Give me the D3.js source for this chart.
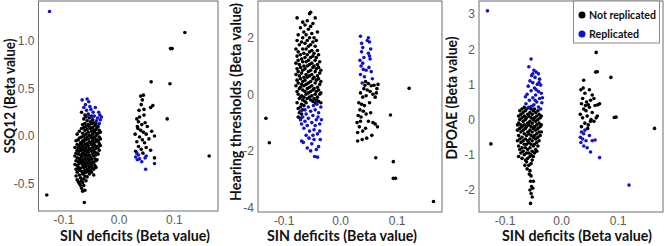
<!DOCTYPE html>
<html>
<head>
<meta charset="utf-8">
<script src="https://cdn.jsdelivr.net/npm/d3@7"></script>
<style>
body { margin: 0; background: #fff; }
text { font-family: "Liberation Sans", Arial, sans-serif; }
</style>
</head>
<body>
<svg id="chart" width="669" height="246"></svg>
<script>
// x = SIN deficits beta, y = beta on the other measure
// dense clusters are stored as columns: [x, [y, y, ...]]

// ---- SSQ12 panel ----
var ssqBlackCols = [
  [-0.079, [-0.12, -0.21, -0.30]],
  [-0.077, [-0.05, -0.18, -0.26, -0.35, -0.42]],
  [-0.075, [0.02, -0.09, -0.15, -0.23, -0.31, -0.38, -0.46]],
  [-0.073, [-0.04, -0.12, -0.19, -0.27, -0.33, -0.48]],
  [-0.071, [0.05, -0.02, -0.10, -0.16, -0.24, -0.29, -0.36, -0.41, -0.50]],
  [-0.069, [-0.07, -0.13, -0.20, -0.26, -0.34, -0.44, -0.52]],
  [-0.067, [0.25, 0.08, -0.01, -0.08, -0.15, -0.22, -0.28, -0.37, -0.47, -0.55]],
  [-0.065, [0.12, 0.03, -0.05, -0.11, -0.18, -0.25, -0.31, -0.40, -0.49, -0.58]],
  [-0.063, [0.18, 0.09, 0.00, -0.06, -0.14, -0.20, -0.27, -0.33, -0.39, -0.45, -0.52]],
  [-0.061, [0.22, 0.13, 0.06, -0.03, -0.09, -0.16, -0.23, -0.29, -0.36, -0.42, -0.57]],
  [-0.059, [0.20, 0.10, 0.02, -0.04, -0.12, -0.19, -0.25, -0.32, -0.38, -0.47]],
  [-0.057, [0.16, 0.07, -0.01, -0.08, -0.15, -0.21, -0.28, -0.35, -0.43]],
  [-0.055, [0.23, 0.12, 0.04, -0.03, -0.10, -0.17, -0.24, -0.30, -0.37]],
  [-0.053, [0.19, 0.10, 0.01, -0.06, -0.13, -0.20, -0.26, -0.33, -0.40]],
  [-0.051, [0.15, 0.08, 0.00, -0.07, -0.14, -0.22, -0.29, -0.36]],
  [-0.049, [0.21, 0.13, 0.05, -0.02, -0.09, -0.16, -0.24, -0.31, -0.38]],
  [-0.047, [0.17, 0.09, 0.02, -0.05, -0.12, -0.19, -0.27, -0.34]],
  [-0.045, [0.14, 0.06, -0.01, -0.08, -0.15, -0.21, -0.28, -0.35, -0.41]],
  [-0.043, [0.11, 0.04, -0.03, -0.10, -0.17, -0.24, -0.31]],
  [-0.041, [0.13, 0.07, 0.00, -0.06, -0.13, -0.20, -0.26, -0.33]],
  [-0.039, [0.09, 0.02, -0.04, -0.11, -0.18, -0.25]],
  [-0.037, [0.10, 0.03, -0.05, -0.12, -0.19]],
  [-0.035, [0.06, -0.01, -0.08, -0.15]],
  [-0.033, [0.04, -0.03, -0.10]]
];
var ssqBlackPts = [
  [-0.130, -0.62], [-0.062, -0.70], [0.120, 1.09], [0.094, 0.92], [0.097, 0.92],
  [0.093, 0.55], [0.088, 0.18], [0.164, -0.21], [0.059, 0.57], [0.062, 0.32], [0.045, 0.43],
  [0.040, 0.42], [0.043, 0.38], [0.041, 0.33], [0.046, 0.28], [0.038, 0.20], [0.033, 0.18],
  [0.036, 0.15], [0.042, 0.12], [0.048, 0.14], [0.052, 0.10], [0.035, 0.08], [0.040, 0.06],
  [0.045, 0.04], [0.050, 0.02], [0.030, 0.02], [0.038, -0.01], [0.043, -0.04], [0.033, -0.06],
  [0.047, -0.07], [0.055, -0.03], [0.060, 0.05], [0.065, 0.00], [0.036, -0.11], [0.041, -0.14],
  [0.031, -0.16], [0.050, -0.12], [0.058, -0.15], [0.065, -0.23], [0.046, 0.22], [0.058, 0.30],
  [0.034, 0.10], [0.044, -0.18], [0.037, 0.27]
];
var ssqBluePts = [
  [-0.125, 1.31],
  [-0.066, 0.38], [-0.057, 0.39], [-0.054, 0.36], [-0.060, 0.33], [-0.052, 0.31], [-0.058, 0.27],
  [-0.050, 0.28], [-0.046, 0.25], [-0.055, 0.22], [-0.048, 0.20], [-0.044, 0.21], [-0.036, 0.25],
  [-0.034, 0.22], [-0.038, 0.19], [-0.033, 0.17], [-0.040, 0.16], [-0.035, 0.13], [-0.042, 0.30],
  [-0.063, 0.30], [-0.031, 0.20],
  [0.031, -0.22], [0.034, -0.25], [0.036, -0.20], [0.038, -0.24], [0.048, -0.23], [0.050, -0.21],
  [0.049, -0.35], [0.065, -0.29], [0.042, -0.27], [0.033, -0.18]
];

// ---- Hearing thresholds panel ----
var hearBlackCols = [
  [-0.078, [1.6, 1.1, 0.7, 0.3]],
  [-0.076, [2.7, 1.9, 1.35, 0.9, 0.5, 0.1, -0.3]],
  [-0.074, [2.1, 1.5, 1.2, 0.8, 0.4, 0.0, -0.5, -0.8]],
  [-0.072, [1.75, 1.05, 0.65, 0.2, -0.15, -0.65]],
  [-0.070, [2.35, 1.4, 0.95, 0.55, 0.25, -0.1, -0.45, -0.85]],
  [-0.068, [1.85, 1.25, 0.75, 0.35, -0.05, -0.35, -0.7]],
  [-0.066, [2.55, 2.0, 1.6, 1.15, 0.85, 0.45, 0.15, -0.2, -0.55]],
  [-0.064, [2.2, 1.45, 1.0, 0.6, 0.3, -0.1, -0.4]],
  [-0.062, [2.45, 1.8, 1.3, 0.9, 0.5, 0.1, -0.25]],
  [-0.060, [2.1, 1.6, 1.15, 0.7, 0.35, 0.0, -0.3]],
  [-0.058, [2.6, 1.9, 1.4, 1.0, 0.6, 0.2, -0.15]],
  [-0.056, [2.3, 1.7, 1.2, 0.8, 0.4, 0.05]],
  [-0.054, [2.85, 2.0, 1.5, 1.05, 0.65, 0.25, -0.1]],
  [-0.052, [2.9, 2.4, 1.75, 1.3, 0.85, 0.45, 0.1, -0.2]],
  [-0.050, [2.15, 1.55, 1.1, 0.7, 0.3, -0.05]],
  [-0.048, [2.5, 1.85, 1.35, 0.95, 0.55, 0.15, -0.25]],
  [-0.046, [2.0, 1.45, 1.0, 0.6, 0.2, -0.15]],
  [-0.044, [2.7, 1.7, 1.2, 0.8, 0.4, 0.0, -0.3]],
  [-0.042, [1.9, 1.3, 0.9, 0.5, 0.1, -0.2]],
  [-0.040, [2.2, 1.55, 1.05, 0.65, 0.25, -0.1]],
  [-0.038, [1.4, 0.95, 0.55, 0.15, -0.25]],
  [-0.036, [1.15, 0.75, 0.35, 0.0]],
  [-0.034, [0.85, 0.45, 0.05, -0.3]]
];
var hearBlackPts = [
  [-0.131, -0.85], [-0.125, -1.71], [0.122, 0.21], [0.089, -0.73], [0.094, -2.38],
  [0.094, -2.97], [0.098, -2.97], [0.165, -3.79], [0.063, -2.24],
  [0.045, 0.45], [0.050, 0.38], [0.055, 0.30], [0.060, 0.32], [0.065, 0.20], [0.067, 0.35],
  [0.042, 0.20], [0.048, 0.15], [0.053, 0.10], [0.058, 0.00], [0.036, 0.05], [0.040, -0.10],
  [0.046, -0.05], [0.062, -0.10], [0.033, -0.30], [0.038, -0.35], [0.043, -0.40], [0.035, -0.55],
  [0.041, -0.60], [0.032, -0.75], [0.037, -0.80], [0.046, -0.70], [0.054, -0.65], [0.030, -1.00],
  [0.034, -1.15], [0.040, -1.30], [0.031, -1.35], [0.045, -1.20], [0.050, -0.95], [0.058, -1.00],
  [0.062, -1.05], [0.066, -1.15], [0.056, -1.45], [0.047, -1.55], [0.031, -1.65], [0.039, -1.60],
  [0.064, 0.05], [0.052, -0.30], [0.036, -0.95], [0.044, 0.32]
];
var hearBluePts = [
  [-0.070, -0.90], [-0.068, -1.05], [-0.066, -0.80], [-0.064, -1.20], [-0.062, -0.95], [-0.060, -0.70],
  [-0.058, -1.10], [-0.056, -0.85], [-0.054, -1.30], [-0.052, -0.60], [-0.050, -1.00], [-0.048, -0.75],
  [-0.046, -1.25], [-0.044, -0.55], [-0.042, -0.90], [-0.040, -1.40], [-0.038, -0.65], [-0.036, -1.05],
  [-0.034, -0.45], [-0.035, -1.60], [-0.038, -1.85], [-0.042, -1.95], [-0.046, -1.60], [-0.050, -1.75],
  [-0.055, -1.55], [-0.060, -1.45], [-0.065, -1.70], [-0.068, -1.65], [-0.045, -2.20], [-0.040, -2.22],
  [-0.052, -2.00], [-0.036, -1.30], [-0.048, -1.45], [-0.058, -1.90], [-0.044, -1.10], [-0.039, -0.80],
  [-0.033, -0.90], [-0.047, -0.40], [-0.056, -0.45], [-0.062, -0.55], [-0.070, -0.60], [-0.041, -0.35],
  [0.036, 2.05], [0.050, 2.00], [0.052, 1.85], [0.038, 1.80], [0.040, 1.65], [0.054, 1.60],
  [0.050, 1.45], [0.038, 1.50], [0.042, 1.30], [0.053, 1.25], [0.040, 1.10], [0.037, 1.00],
  [0.051, 0.95], [0.046, 0.85], [0.055, 0.80], [0.036, 0.70], [0.043, 0.62], [0.057, 0.55],
  [0.039, 0.40], [0.048, 1.90], [0.052, 1.35], [0.035, 1.20], [0.041, 0.88]
];

// ---- DPOAE panel ----
var dpoaeBlackCols = [
  [-0.077, [-0.15, -0.30, -0.60]],
  [-0.075, [0.10, -0.10, -0.45, -0.75, -1.05]],
  [-0.073, [0.25, 0.00, -0.25, -0.55, -0.85]],
  [-0.071, [0.15, -0.15, -0.35, -0.65, -0.95]],
  [-0.069, [0.30, 0.05, -0.20, -0.50, -0.80, -1.10]],
  [-0.067, [0.20, -0.05, -0.30, -0.60, -0.90]],
  [-0.065, [0.35, 0.10, -0.15, -0.40, -0.70, -1.00]],
  [-0.063, [0.25, 0.00, -0.25, -0.55, -0.80, -1.15]],
  [-0.061, [0.30, 0.05, -0.20, -0.45, -0.70, -0.95, -1.20]],
  [-0.059, [0.15, -0.10, -0.35, -0.60, -0.85, -1.10]],
  [-0.057, [0.35, 0.10, -0.15, -0.40, -0.65, -0.95, -1.30]],
  [-0.055, [0.20, -0.05, -0.30, -0.55, -0.80, -1.05, -1.45]],
  [-0.053, [0.30, 0.05, -0.20, -0.45, -0.70, -1.00, -1.25, -1.60]],
  [-0.051, [0.15, -0.10, -0.35, -0.60, -0.90, -1.15]],
  [-0.049, [0.25, 0.00, -0.25, -0.50, -0.75, -1.05]],
  [-0.047, [0.30, 0.05, -0.20, -0.45, -0.70, -0.95]],
  [-0.045, [0.20, -0.05, -0.30, -0.55, -0.85]],
  [-0.043, [0.10, -0.15, -0.40, -0.65, -0.90]],
  [-0.041, [0.25, 0.00, -0.25, -0.50, -0.75]],
  [-0.039, [0.15, -0.10, -0.35, -0.60]],
  [-0.037, [0.05, -0.20, -0.45]],
  [-0.035, [0.10, -0.15, -0.35]]
];
var dpoaeBlackPts = [
  [-0.124, -0.69], [0.165, -0.25], [0.062, 1.91], [0.061, 1.35], [0.064, 1.36],
  [0.088, 1.20], [0.094, 0.06], [0.097, 0.07],
  [-0.054, -1.75], [-0.052, -1.90], [-0.055, -2.00], [-0.050, -1.95], [-0.053, -2.10], [-0.051, -2.20],
  [-0.054, -2.38], [-0.049, -1.75], [-0.056, -1.55], [-0.060, -1.40], [-0.064, -1.30],
  [0.040, 1.12], [0.035, 0.85], [0.042, 0.75], [0.050, 0.85], [0.055, 0.70], [0.058, 0.60],
  [0.038, 0.60], [0.045, 0.50], [0.048, 0.42], [0.052, 0.55], [0.036, 0.45], [0.040, 0.30],
  [0.044, 0.25], [0.050, 0.35], [0.060, 0.40], [0.065, 0.42], [0.034, 0.15], [0.038, 0.05],
  [0.046, 0.10], [0.053, 0.00], [0.058, -0.05], [0.042, -0.10], [0.048, -0.15], [0.036, -0.20],
  [0.055, 0.20], [0.062, 0.05], [0.064, 0.10], [0.043, 0.40], [0.039, 0.90], [0.047, -0.25],
  [0.052, -0.05], [0.068, 0.45]
];
var dpoaeBluePts = [
  [-0.130, 3.09], [0.120, -1.86], [0.068, -1.08],
  [-0.053, 1.72], [-0.057, 1.50], [-0.048, 1.40], [-0.044, 1.35], [-0.040, 1.30], [-0.052, 1.25],
  [-0.046, 1.20], [-0.038, 1.15], [-0.055, 1.10], [-0.050, 1.05], [-0.042, 1.00], [-0.036, 0.98],
  [-0.058, 0.95], [-0.047, 0.90], [-0.053, 0.82], [-0.040, 0.80], [-0.035, 0.75], [-0.060, 0.72],
  [-0.045, 0.70], [-0.050, 0.62], [-0.038, 0.60], [-0.056, 0.55], [-0.043, 0.50], [-0.034, 0.48],
  [-0.062, 0.45], [-0.048, 0.42], [-0.052, 0.38], [-0.040, 0.36], [-0.058, 0.33], [-0.036, 0.30],
  [-0.044, 0.85], [-0.050, 1.30], [-0.039, 1.05], [-0.046, 0.55], [-0.033, 0.62], [-0.063, 0.65],
  [0.036, -0.35], [0.040, -0.40], [0.038, -0.55], [0.044, -0.60], [0.035, -0.65], [0.040, -0.75],
  [0.046, -0.80], [0.050, -0.45], [0.055, -0.60], [0.060, -0.58], [0.052, -0.92], [0.042, -0.30],
  [0.034, -0.50]
];

var xTicks = [-0.1, 0, 0.1];
var legendLabels = ["Not replicated", "Replicated"];
var colors = { black: "#000000", blue: "#1212cc" };

function flatten(cols) {
    return cols.flatMap(function (c) { return c[1].map(function (v) { return [c[0], v]; }); });
}

var panels = [
    { left: 38.5, right: 218, top: 1, bottom: 211, yDomain: [-0.789, 1.421],
      yTicks: [-0.5, 0, 0.5, 1], fmt: function (d) { return d.toFixed(1); },
      title: "SSQ12 (Beta value)", titleLen: 115, titleX: 15, titleY: 96, xTitleX: 135,
      black: flatten(ssqBlackCols).concat(ssqBlackPts), blue: ssqBluePts },
    { left: 258, right: 442, top: 1, bottom: 212, yDomain: [-4.159, 3.297],
      yTicks: [-4, -2, 0, 2], fmt: function (d) { return String(d); },
      title: "Hearing thresholds (Beta value)", titleLen: 198, titleX: 241, titleY: 102, xTitleX: 342,
      black: flatten(hearBlackCols).concat(hearBlackPts), blue: hearBluePts },
    { left: 479, right: 663, top: 1, bottom: 212, yDomain: [-2.625, 3.37],
      yTicks: [-2, -1, 0, 1, 2, 3], fmt: function (d) { return String(d); },
      title: "DPOAE (Beta value)", titleLen: 123, titleX: 457, titleY: 98, xTitleX: 577,
      black: flatten(dpoaeBlackCols).concat(dpoaeBlackPts), blue: dpoaeBluePts }
];

var svg = d3.select("#chart");

panels.forEach(function (p) {
    var x = d3.scaleLinear().domain([-0.145, 0.18]).range([p.left, p.right]);
    var y = d3.scaleLinear().domain(p.yDomain).range([p.bottom, p.top]);
    var g = svg.append("g");

    g.append("rect")
        .attr("x", p.left).attr("y", p.top)
        .attr("width", p.right - p.left).attr("height", p.bottom - p.top)
        .attr("fill", "#fff").attr("stroke", "#6e6e6e").attr("stroke-width", 1);

    g.selectAll("circle.nr").data(p.black).enter().append("circle")
        .attr("cx", function (d) { return x(d[0]); })
        .attr("cy", function (d) { return y(d[1]); })
        .attr("r", 1.8).attr("fill", colors.black);

    g.selectAll("circle.rp").data(p.blue).enter().append("circle")
        .attr("cx", function (d) { return x(d[0]); })
        .attr("cy", function (d) { return y(d[1]); })
        .attr("r", 1.8).attr("fill", colors.blue);

    var yAxis = g.append("g")
        .attr("transform", "translate(" + p.left + ",0)")
        .call(d3.axisLeft(y).tickValues(p.yTicks).tickFormat(p.fmt).tickSize(0).tickPadding(4));
    var xAxis = g.append("g")
        .attr("transform", "translate(0," + p.bottom + ")")
        .call(d3.axisBottom(x).tickValues(xTicks).tickFormat(function (d) { return d.toFixed(1); })
            .tickSize(0).tickPadding(4));
    [yAxis, xAxis].forEach(function (a) {
        a.select(".domain").remove();
        a.selectAll("text").attr("fill", "#5a5a5a").style("font-size", "12px")
            .style("font-family", "'Liberation Sans', Arial, sans-serif");
    });

    g.append("text")
        .attr("transform", "translate(" + p.titleX + "," + p.titleY + ") rotate(-90)")
        .attr("text-anchor", "middle")
        .attr("textLength", p.titleLen).attr("lengthAdjust", "spacingAndGlyphs")
        .style("font-family", "Lato, sans-serif").style("font-weight", "bold").style("font-size", "15px")
        .attr("fill", "#111")
        .text(p.title);

    g.append("text")
        .attr("x", p.xTitleX).attr("y", 241)
        .attr("text-anchor", "middle")
        .attr("textLength", 150).attr("lengthAdjust", "spacingAndGlyphs")
        .style("font-family", "Lato, sans-serif").style("font-weight", "bold").style("font-size", "15px")
        .attr("fill", "#111")
        .text("SIN deficits (Beta value)");
});

// legend in the DPOAE panel
var leg = svg.append("g");
leg.append("rect").attr("x", 573.5).attr("y", 1).attr("width", 86).attr("height", 42)
    .attr("fill", "#fff").attr("stroke", "#8a8a8a");
var legendLen = [67, 50];
legendLabels.forEach(function (lab, i) {
    leg.append("circle").attr("cx", 582).attr("cy", 15 + i * 19).attr("r", 3.5)
        .attr("fill", i === 0 ? colors.black : colors.blue);
    leg.append("text").attr("x", 589).attr("y", 19 + i * 18.5)
        .attr("textLength", legendLen[i]).attr("lengthAdjust", "spacingAndGlyphs")
        .style("font-family", "Lato, sans-serif").style("font-weight", "bold").style("font-size", "12px")
        .attr("fill", "#111")
        .text(lab);
});
</script>
</body>
</html>
